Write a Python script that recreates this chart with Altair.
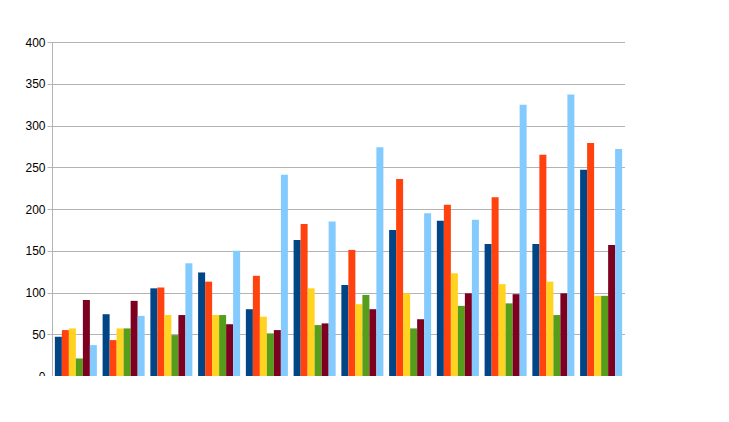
import altair as alt
import pandas as pd

langs = ["visualbasic", "sql", "java", "php", "cpp", "python", "haskell",
         "javascript", "ruby", "scala", "lisp", "clojure"]
series = ["awesome", "cool", "fun", "happy", "helpful", "interesting"]
awesome = [47, 74, 105, 124, 80, 163, 109, 175, 186, 158, 158, 247]
cool = [55, 43, 106, 113, 120, 182, 151, 236, 205, 214, 265, 279]
fun = [57, 57, 73, 73, 71, 105, 86, 99, 123, 110, 113, 96]
happy = [21, 57, 49, 73, 51, 61, 97, 57, 84, 87, 73, 96]
helpful = [91, 90, 73, 62, 55, 63, 80, 68, 99, 98, 99, 157]
interesting = [37, 72, 135, 150, 241, 185, 274, 195, 187, 325, 337, 272]
colors = ["#004586", "#ff420e", "#ffd320", "#579d1c", "#7e0021", "#83caff"]

rows = []
for s, vals in zip(series, [awesome, cool, fun, happy, helpful, interesting]):
    for l, v in zip(langs, vals):
        rows.append({"lang": l, "series": s, "value": v})
df = pd.DataFrame(rows)

chart = alt.Chart(df).mark_bar().encode(
    x=alt.X("lang:N", sort=langs, title=None,
            scale=alt.Scale(paddingInner=0.12, paddingOuter=0.06),
            axis=alt.Axis(labelAngle=0, tickBand="extent", grid=False, domainColor="#b3b3b3",
                          tickColor="#b3b3b3", labelFontSize=12, labelColor="#000", labelPadding=4)),
    xOffset=alt.XOffset("series:N", sort=series),
    y=alt.Y("value:Q", title=None, scale=alt.Scale(domain=[0, 400]),
            axis=alt.Axis(values=list(range(0, 401, 50)), gridColor="#b3b3b3", domainColor="#b3b3b3",
                          tickColor="#b3b3b3", labelFontSize=12, labelColor="#000", tickSize=5)),
    color=alt.Color("series:N", sort=series, scale=alt.Scale(domain=series, range=colors),
                    legend=alt.Legend(title=None, orient="none", legendX=601, legendY=120,
                                      symbolType="square", symbolSize=70, labelFontSize=12,
                                      labelColor="#000", rowPadding=3)),
).properties(
    width=573, height=334, autosize=alt.AutoSizeParams(type="none"),
    padding={"left": 44, "top": 34, "right": 0, "bottom": 0},
).configure_view(stroke="#b3b3b3").configure(font="Liberation Sans")

chart.save("out.html", embed_options={"renderer": "svg", "actions": False})
